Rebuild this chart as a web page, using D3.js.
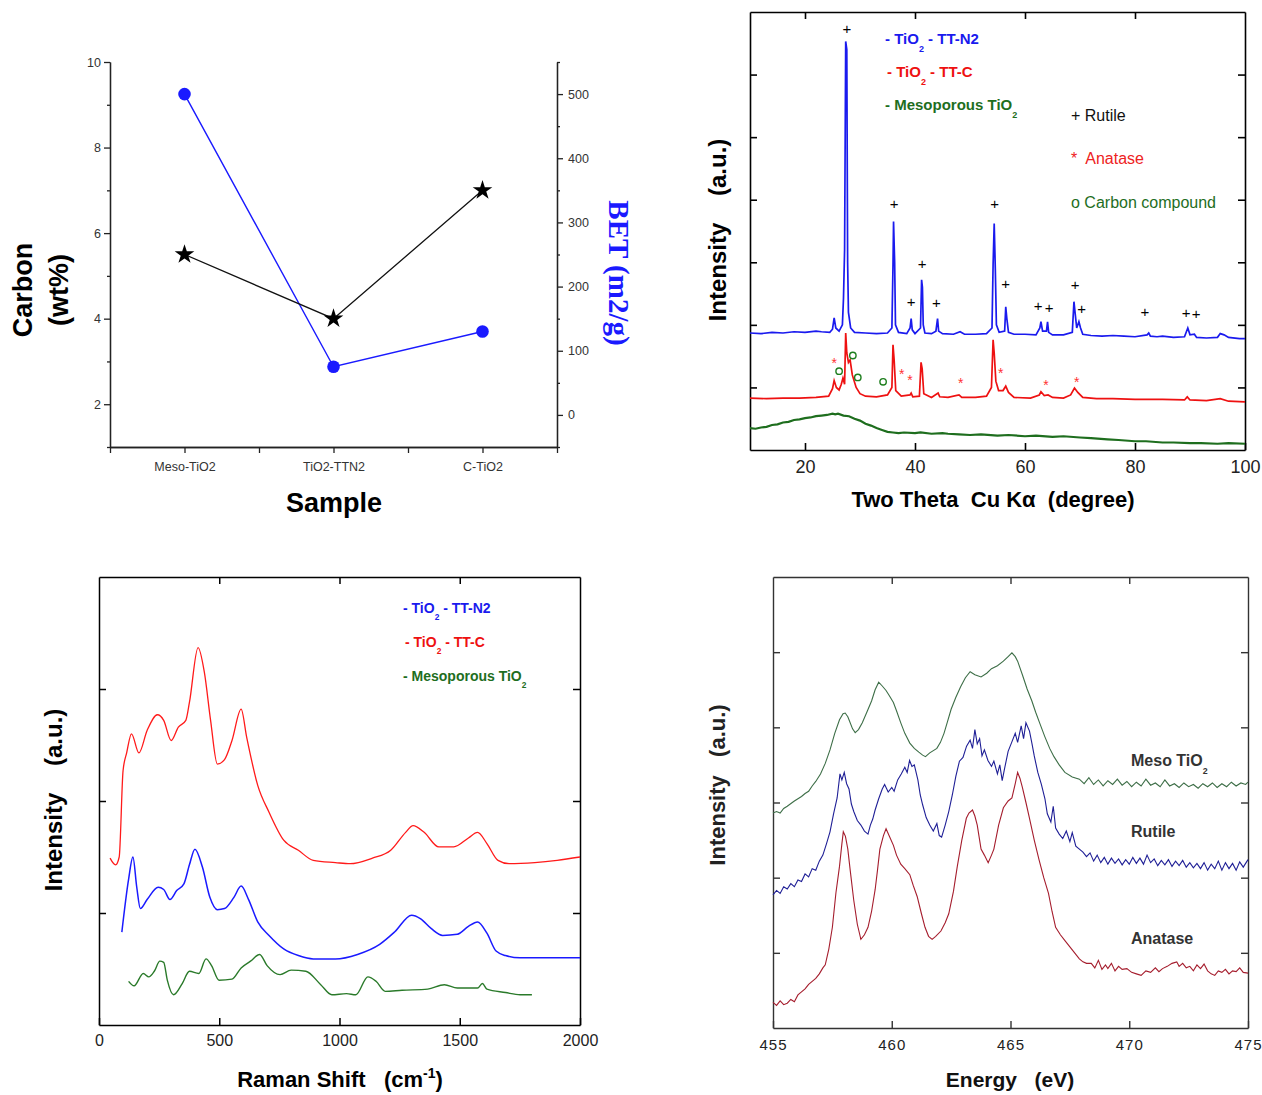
<!DOCTYPE html>
<html><head><meta charset="utf-8">
<script src="https://cdn.jsdelivr.net/npm/d3@7"></script>
<style>
body{margin:0;background:#fff}
svg{display:block}
.pre{white-space:pre}
</style>
</head><body>
<svg id="c" width="1262" height="1095" font-family='"Liberation Sans", Arial, Helvetica, sans-serif'></svg>
<script>
// ---------- Panel 1 data ----------
const samples = ["Meso-TiO2", "TiO2-TTN2", "C-TiO2"];
const carbonWt = [5.5, 4.0, 7.0];
const betArea = [500, 75, 130];
const carbonTicks = [2, 4, 6, 8, 10];
const betTicks = [0, 100, 200, 300, 400, 500];

// ---------- Panel 2 data (XRD) ----------
const xrdTicks = [20, 40, 60, 80, 100];
const xrdN2 = [[10,1.87],[12,1.86],[14,1.88],[16,1.87],[18,1.89],[20,1.88],[22,1.90],[23,1.89],[24.5,1.88],[25.0,1.93],[25.3,2.11],[25.6,1.95],[26.2,1.90],[26.8,2.00],[27.0,2.43],[27.2,3.2],[27.4,6.53],[27.6,6.4],[27.75,3.0],[27.9,2.2],[28.3,1.95],[29,1.88],[31,1.87],[33,1.86],[35,1.87],[35.8,1.95],[36.0,2.96],[36.1,3.65],[36.3,3.0],[36.45,2.0],[37,1.88],[38.5,1.86],[39.1,1.95],[39.3,2.1],[39.5,1.92],[40,1.86],[41.0,1.95],[41.2,2.72],[41.35,2.6],[41.5,2.0],[41.8,1.87],[43,1.86],[43.8,1.9],[44.1,2.1],[44.3,1.9],[45,1.86],[47,1.85],[48.2,1.89],[49,1.85],[51,1.85],[53,1.86],[54.0,1.95],[54.2,2.96],[54.4,3.62],[54.6,2.9],[54.8,2.0],[55.3,1.88],[56.3,1.9],[56.5,2.29],[56.7,2.1],[57.0,1.88],[58,1.85],[60,1.85],[62,1.84],[62.7,1.95],[62.9,2.05],[63.2,1.9],[63.9,1.9],[64.1,2.05],[64.3,1.88],[65,1.84],[67,1.84],[68.6,1.88],[68.9,2.37],[69.1,2.2],[69.4,1.95],[69.8,2.05],[70.1,1.95],[70.5,1.85],[72,1.83],[74,1.82],[76,1.83],[78,1.82],[80,1.81],[82.2,1.84],[82.5,1.87],[82.8,1.82],[84,1.81],[85,1.82],[87,1.80],[89,1.81],[89.6,1.95],[90,1.84],[90.8,1.85],[91.2,1.8],[93,1.79],[95,1.80],[95.5,1.86],[96.2,1.84],[97,1.80],[99,1.78],[100,1.78]];
const xrdC = [[10,0.83],[13,0.82],[16,0.83],[19,0.83],[22,0.84],[24.3,0.86],[25.0,0.98],[25.3,1.11],[25.7,1.0],[26.2,0.96],[26.6,1.05],[26.9,1.15],[27.2,1.05],[27.4,1.87],[27.6,1.55],[27.9,1.40],[28.2,1.44],[28.6,1.2],[29.3,1.0],[30,0.9],[31,0.86],[33,0.85],[35,0.88],[35.8,1.0],[36.0,1.68],[36.2,1.45],[36.5,0.95],[37.5,0.86],[39.1,0.88],[39.3,0.91],[39.6,0.85],[40.8,0.86],[41.1,1.40],[41.3,1.3],[41.6,0.9],[43,0.84],[44.2,0.91],[44.5,0.85],[46,0.84],[48.0,0.88],[48.5,0.84],[51,0.84],[53,0.86],[53.9,1.0],[54.2,1.76],[54.4,1.55],[54.7,1.1],[55.2,0.95],[56.0,0.95],[56.5,1.02],[57,0.92],[58,0.84],[61,0.83],[62.6,0.88],[62.9,0.93],[63.5,0.87],[64.2,0.88],[65,0.84],[67,0.83],[68.3,0.88],[69.0,0.99],[69.6,0.92],[70.5,0.84],[73,0.82],[76,0.82],[80,0.81],[85,0.81],[89,0.8],[89.5,0.85],[90,0.8],[93,0.79],[95.5,0.82],[97,0.78],[100,0.77]];
const xrdMeso = [[10,0.35],[11,0.34],[12,0.36],[13,0.37],[14,0.40],[15,0.41],[16,0.44],[17,0.45],[18,0.48],[19,0.49],[20,0.51],[21,0.52],[22,0.54],[23,0.55],[24,0.56],[25,0.58],[25.5,0.57],[26,0.58],[27,0.55],[28,0.54],[29,0.50],[30,0.47],[31,0.42],[32,0.39],[33,0.35],[34,0.32],[35,0.29],[36,0.28],[37,0.27],[38,0.28],[40,0.27],[41,0.28],[43,0.26],[45,0.27],[46,0.26],[48,0.25],[50,0.24],[52,0.25],[55,0.23],[57,0.24],[60,0.22],[62,0.23],[65,0.21],[67,0.22],[70,0.20],[72,0.19],[75,0.17],[77,0.16],[80,0.14],[82,0.14],[85,0.12],[87,0.12],[90,0.11],[92,0.11],[95,0.10],[97,0.11],[100,0.10]];
const rutileMarks = [[27.6,6.74],[36.2,3.94],[39.3,2.37],[41.3,2.98],[43.9,2.35],[54.5,3.94],[56.5,2.66],[62.4,2.30],[64.4,2.28],[69.1,2.64],[70.3,2.25],[81.8,2.21],[89.3,2.19],[91.1,2.17]];
const anataseMarks = [[25.3,1.43],[37.6,1.25],[39.1,1.16],[48.3,1.11],[55.6,1.27],[63.8,1.08],[69.4,1.13]];
const carbonMarks = [[26.2,1.26],[28.7,1.51],[29.6,1.16],[34.2,1.09]];

// ---------- Panel 3 data (Raman) ----------
const ramanTicks = [0, 500, 1000, 1500, 2000];
const ramanC = [[46,1.49],[69,1.43],[84,1.50],[100,2.27],[115,2.43],[135,2.60],[166,2.43],[200,2.63],[243,2.77],[269,2.72],[300,2.54],[330,2.66],[361,2.72],[376,2.88],[412,3.37],[438,3.15],[464,2.72],[492,2.33],[522,2.37],[553,2.54],[591,2.82],[614,2.57],[660,2.14],[707,1.90],[768,1.65],[829,1.56],[891,1.47],[983,1.45],[1044,1.44],[1137,1.49],[1213,1.56],[1275,1.72],[1306,1.78],[1352,1.72],[1413,1.59],[1475,1.59],[1536,1.67],[1574,1.72],[1613,1.62],[1659,1.47],[1705,1.44],[1812,1.45],[1905,1.47],[2000,1.50]];
const ramanN2 = [[95,0.83],[123,1.30],[141,1.50],[157,1.23],[172,1.04],[200,1.12],[246,1.23],[269,1.21],[295,1.12],[323,1.20],[353,1.26],[376,1.43],[399,1.57],[430,1.41],[461,1.14],[492,1.03],[522,1.04],[561,1.14],[591,1.24],[622,1.12],[660,0.92],[707,0.80],[768,0.68],[829,0.62],[891,0.59],[983,0.59],[1075,0.63],[1167,0.72],[1229,0.83],[1300,0.98],[1336,0.95],[1382,0.86],[1429,0.80],[1490,0.81],[1536,0.88],[1574,0.92],[1613,0.82],[1651,0.66],[1690,0.62],[1751,0.60],[2000,0.60]];
const ramanMeso = [[123,0.39],[146,0.35],[184,0.46],[207,0.43],[230,0.48],[253,0.57],[269,0.56],[284,0.40],[310,0.27],[346,0.37],[376,0.48],[415,0.46],[445,0.59],[468,0.53],[499,0.40],[553,0.41],[591,0.51],[630,0.57],[668,0.63],[699,0.53],[753,0.45],[799,0.49],[860,0.48],[922,0.36],[968,0.27],[1029,0.28],[1068,0.27],[1118,0.43],[1152,0.39],[1190,0.30],[1260,0.31],[1367,0.32],[1436,0.36],[1490,0.33],[1574,0.33],[1594,0.37],[1613,0.32],[1690,0.29],[1751,0.27],[1800,0.27]];

// ---------- Panel 4 data (XAS) ----------
const xasTicks = [455, 460, 465, 470, 475];
const xasMeso = [[455,2.86],[455.15,2.88],[455.3,2.86],[455.45,2.92],[455.6,2.95],[455.77,2.99],[455.9,3.02],[456.05,3.05],[456.2,3.08],[456.35,3.12],[456.5,3.15],[456.65,3.22],[456.8,3.28],[457.0,3.38],[457.2,3.52],[457.4,3.70],[457.6,3.92],[457.8,4.10],[457.95,4.18],[458.04,4.19],[458.15,4.14],[458.2,4.10],[458.35,3.98],[458.46,3.93],[458.6,3.97],[458.76,4.06],[458.95,4.20],[459.15,4.35],[459.3,4.50],[459.45,4.60],[459.6,4.55],[459.76,4.49],[459.9,4.42],[460.07,4.33],[460.2,4.22],[460.38,4.06],[460.55,3.92],[460.76,3.79],[460.95,3.72],[461.14,3.67],[461.3,3.63],[461.42,3.61],[461.6,3.66],[461.9,3.72],[462.05,3.80],[462.2,3.92],[462.35,4.08],[462.5,4.24],[462.7,4.40],[462.9,4.54],[463.1,4.66],[463.3,4.74],[463.5,4.70],[463.76,4.67],[464.0,4.72],[464.2,4.78],[464.45,4.82],[464.7,4.88],[464.9,4.94],[465.06,4.99],[465.2,4.94],[465.3,4.88],[465.5,4.70],[465.7,4.51],[465.9,4.35],[466.06,4.20],[466.25,4.04],[466.44,3.88],[466.65,3.72],[466.83,3.61],[467.05,3.50],[467.29,3.40],[467.6,3.34],[467.9,3.31],[468.1,3.25],[468.3,3.33],[468.5,3.24],[468.7,3.30],[468.9,3.22],[469.1,3.29],[469.3,3.24],[469.5,3.31],[469.7,3.23],[469.9,3.28],[470.1,3.21],[470.3,3.27],[470.5,3.22],[470.7,3.31],[470.9,3.23],[471.1,3.26],[471.3,3.21],[471.5,3.30],[471.7,3.22],[471.9,3.25],[472.1,3.20],[472.3,3.26],[472.5,3.21],[472.7,3.24],[472.9,3.19],[473.1,3.25],[473.3,3.21],[473.5,3.26],[473.7,3.20],[473.9,3.25],[474.1,3.21],[474.3,3.27],[474.5,3.22],[474.7,3.26],[474.9,3.24],[475,3.27]];
const xasRutile = [[455,1.77],[455.15,1.83],[455.3,1.79],[455.45,1.88],[455.6,1.85],[455.75,1.92],[455.9,1.88],[456.05,1.97],[456.2,1.95],[456.35,2.05],[456.5,2.01],[456.65,2.12],[456.8,2.10],[456.95,2.22],[457.1,2.30],[457.25,2.45],[457.4,2.61],[457.55,2.85],[457.7,3.06],[457.82,3.38],[457.9,3.30],[458.0,3.40],[458.1,3.25],[458.2,3.18],[458.3,2.98],[458.4,2.88],[458.55,2.76],[458.7,2.70],[458.85,2.62],[459.0,2.58],[459.1,2.70],[459.2,2.78],[459.3,2.90],[459.45,3.05],[459.6,3.18],[459.7,3.24],[459.85,3.14],[460.0,3.20],[460.1,3.15],[460.25,3.30],[460.4,3.38],[460.55,3.47],[460.65,3.40],[460.75,3.56],[460.85,3.48],[460.95,3.50],[461.1,3.30],[461.2,3.10],[461.3,2.97],[461.45,2.80],[461.6,2.70],[461.75,2.62],[461.9,2.72],[462.0,2.56],[462.1,2.54],[462.25,2.70],[462.4,2.88],[462.55,3.10],[462.7,3.35],[462.85,3.55],[463.0,3.60],[463.15,3.75],[463.3,3.83],[463.4,3.72],[463.5,3.97],[463.6,3.78],[463.7,3.85],[463.8,3.62],[463.9,3.70],[464.05,3.56],[464.2,3.48],[464.3,3.55],[464.45,3.38],[464.55,3.50],[464.65,3.29],[464.75,3.45],[464.9,3.68],[465.05,3.80],[465.2,3.92],[465.3,3.80],[465.45,4.02],[465.55,3.85],[465.65,4.06],[465.8,3.95],[465.9,3.79],[466.0,3.62],[466.15,3.40],[466.3,3.24],[466.45,3.05],[466.55,2.85],[466.7,2.74],[466.8,2.95],[466.9,2.66],[467.05,2.58],[467.2,2.52],[467.35,2.62],[467.5,2.48],[467.6,2.60],[467.75,2.42],[467.9,2.38],[468.05,2.34],[468.2,2.28],[468.35,2.33],[468.5,2.22],[468.65,2.30],[468.8,2.20],[468.95,2.27],[469.1,2.18],[469.25,2.26],[469.4,2.19],[469.55,2.25],[469.7,2.17],[469.85,2.24],[470.0,2.18],[470.15,2.27],[470.3,2.19],[470.45,2.26],[470.6,2.18],[470.75,2.30],[470.9,2.20],[471.05,2.25],[471.2,2.16],[471.35,2.23],[471.5,2.17],[471.65,2.24],[471.8,2.15],[471.95,2.22],[472.1,2.16],[472.25,2.23],[472.4,2.14],[472.55,2.20],[472.7,2.13],[472.85,2.19],[473.0,2.12],[473.15,2.20],[473.3,2.10],[473.45,2.18],[473.6,2.12],[473.75,2.22],[473.9,2.10],[474.05,2.20],[474.2,2.12],[474.35,2.19],[474.5,2.10],[474.65,2.21],[474.8,2.14],[475,2.24]];
const xasAnatase = [[455,0.34],[455.15,0.30],[455.3,0.36],[455.45,0.31],[455.6,0.33],[455.75,0.38],[455.9,0.35],[456.05,0.44],[456.2,0.48],[456.35,0.52],[456.5,0.58],[456.65,0.62],[456.8,0.66],[456.95,0.72],[457.1,0.80],[457.2,0.84],[457.35,1.05],[457.5,1.34],[457.65,1.80],[457.8,2.15],[457.9,2.45],[457.96,2.61],[458.05,2.55],[458.15,2.38],[458.25,2.10],[458.4,1.70],[458.55,1.38],[458.7,1.18],[458.85,1.24],[459.0,1.34],[459.15,1.55],[459.3,1.84],[459.4,2.10],[459.5,2.38],[459.65,2.56],[459.76,2.65],[459.9,2.55],[460.07,2.43],[460.2,2.30],[460.38,2.18],[460.55,2.12],[460.76,2.04],[460.9,1.90],[461.07,1.75],[461.25,1.52],[461.4,1.34],[461.55,1.22],[461.7,1.18],[461.85,1.22],[462.07,1.29],[462.25,1.40],[462.4,1.52],[462.6,1.82],[462.76,2.15],[462.95,2.50],[463.14,2.79],[463.25,2.86],[463.4,2.90],[463.5,2.82],[463.6,2.70],[463.7,2.50],[463.76,2.38],[463.9,2.30],[464.06,2.20],[464.2,2.30],[464.3,2.38],[464.5,2.70],[464.7,2.93],[464.9,3.02],[465.06,3.06],[465.2,3.25],[465.3,3.40],[465.4,3.32],[465.5,3.20],[465.65,3.00],[465.8,2.79],[466.0,2.50],[466.2,2.24],[466.4,2.00],[466.6,1.79],[466.75,1.55],[466.9,1.34],[467.1,1.24],[467.3,1.16],[467.5,1.08],[467.75,0.98],[467.9,0.92],[468.05,0.88],[468.2,0.86],[468.4,0.86],[468.55,0.80],[468.7,0.90],[468.85,0.78],[469.0,0.84],[469.1,0.79],[469.25,0.86],[469.4,0.76],[469.55,0.82],[469.7,0.78],[469.9,0.79],[470.1,0.74],[470.3,0.72],[470.5,0.70],[470.7,0.76],[470.9,0.74],[471.1,0.80],[471.25,0.75],[471.4,0.79],[471.6,0.82],[471.8,0.86],[472.0,0.88],[472.1,0.82],[472.25,0.86],[472.4,0.80],[472.55,0.82],[472.7,0.76],[472.85,0.84],[473.0,0.79],[473.15,0.85],[473.3,0.76],[473.45,0.72],[473.6,0.70],[473.75,0.76],[473.9,0.74],[474.05,0.78],[474.2,0.72],[474.35,0.76],[474.5,0.75],[474.65,0.80],[474.8,0.74],[475,0.73]];

// ================= drawing =================
const SANS = '"Liberation Sans", Arial, Helvetica, sans-serif';
const SERIF = '"Liberation Serif", "Times New Roman", Times, serif';
const NARROW = '"Liberation Sans Narrow", "Arial Narrow", "Liberation Sans", Arial, sans-serif';
const svg = d3.select("#c");
svg.append("rect").attr("width", 1262).attr("height", 1095).attr("fill", "#fff");

function styleAxis(g, color, sw, fs, fill, weight) {
  g.attr("font-family", SANS);
  g.selectAll(".domain, .tick line").attr("stroke", color).attr("stroke-width", sw);
  g.selectAll("text").attr("font-size", fs).attr("fill", fill || "#111")
    .attr("font-weight", weight || "normal");
  g.selectAll(".tick text").filter(function () { return this.textContent === ""; }).remove();
}
function mkLine(x, y, curve) {
  return d3.line().x(d => x(d[0])).y(d => y(d[1])).curve(curve || d3.curveLinear);
}
function rotLabel(parent, x, y, txt, opts) {
  return parent.append("text").attr("class", "pre")
    .attr("transform", `translate(${x},${y}) rotate(${opts.rot || -90})`)
    .attr("text-anchor", "middle").attr("font-size", opts.fs).attr("font-weight", "bold")
    .attr("font-family", opts.family || SANS)
    .attr("fill", opts.fill || "#000").text(txt);
}
function framePanel(x, y, xt, yt, opt) {
  const g = svg.append("g");
  const [yb, yt0] = y.range();
  const [xl, xr] = x.range();
  const tl = opt.tl || 6;
  const gb = g.append("g").attr("transform", `translate(0,${yb})`)
    .call(d3.axisBottom(x).tickValues(xt).tickSize(-tl).tickSizeOuter(0).tickPadding(opt.pad).tickFormat(d3.format("d")));
  styleAxis(gb, opt.color, opt.sw, opt.fs, opt.tfill, opt.tweight);
  gb.selectAll("text").attr("dy", "0.71em");
  const inner = xt.filter(v => v !== x.domain()[0] && v !== x.domain()[1]);
  const gt = g.append("g").attr("transform", `translate(0,${yt0})`)
    .call(d3.axisTop(x).tickValues(inner).tickSize(-tl).tickSizeOuter(0).tickFormat(""));
  styleAxis(gt, opt.color, opt.sw, opt.fs);
  const gl = g.append("g").attr("transform", `translate(${xl},0)`)
    .call(d3.axisLeft(y).tickValues(yt).tickSize(-tl).tickSizeOuter(0).tickFormat(""));
  styleAxis(gl, opt.color, opt.sw, opt.fs);
  const gr = g.append("g").attr("transform", `translate(${xr},0)`)
    .call(d3.axisRight(y).tickValues(yt).tickSize(-tl).tickSizeOuter(0).tickFormat(""));
  styleAxis(gr, opt.color, opt.sw, opt.fs);
  return g;
}
// text with a subscript part; the part after a subscript restores the baseline
function subText(parent, x, y, parts, fs, fill, family, subScale) {
  const t = parent.append("text").attr("x", x).attr("y", y).attr("font-size", fs)
    .attr("font-weight", "bold").attr("fill", fill).attr("class", "pre")
    .attr("font-family", family || SANS);
  const off = fs * 0.5;
  let lowered = false;
  parts.forEach(p => {
    if (p.sub) {
      t.append("tspan").attr("dy", off).attr("font-size", fs * (subScale || 0.6)).text(p.sub);
      lowered = true;
    } else {
      const s = t.append("tspan").text(p.t);
      if (lowered) { s.attr("dy", -off); lowered = false; }
    }
  });
  return t;
}

// ---------- Panel 1 ----------
{
  const x = d3.scaleLinear().domain([0.5, 3.5]).range([110, 557]);
  const yL = d3.scaleLinear().domain([1, 10]).range([447, 62]);
  const yR = d3.scaleLinear().domain([-50, 550]).range([447, 62]);
  const g = svg.append("g");
  const c = "#222";
  const gl = g.append("g").attr("transform", "translate(110,0)")
    .call(d3.axisLeft(yL).tickValues(carbonTicks).tickSize(6).tickSizeOuter(0).tickPadding(3));
  styleAxis(gl, c, 1.3, 12.5, "#333");
  const glm = g.append("g").attr("transform", "translate(110,0)")
    .call(d3.axisLeft(yL).tickValues([1, 3, 5, 7, 9]).tickSize(3).tickSizeOuter(0).tickFormat(""));
  styleAxis(glm, c, 1.3, 12);
  const gr = g.append("g").attr("transform", "translate(557,0)")
    .call(d3.axisRight(yR).tickValues(betTicks).tickSize(6).tickSizeOuter(0).tickPadding(5));
  styleAxis(gr, c, 1.3, 12.5, "#333");
  const grm = g.append("g").attr("transform", "translate(557,0)")
    .call(d3.axisRight(yR).tickValues([-50, 50, 150, 250, 350, 450, 550]).tickSize(3).tickSizeOuter(0).tickFormat(""));
  styleAxis(grm, c, 1.3, 12);
  const gb = g.append("g").attr("transform", "translate(0,447)")
    .call(d3.axisBottom(x).tickValues([1, 2, 3]).tickSize(6).tickSizeOuter(0).tickPadding(9).tickFormat(i => samples[i - 1]));
  styleAxis(gb, c, 1.3, 12.5, "#333");
  const gbm = g.append("g").attr("transform", "translate(0,447)")
    .call(d3.axisBottom(x).tickValues([0.5, 1.5, 2.5, 3.5]).tickSize(6).tickSizeOuter(0).tickFormat(""));
  styleAxis(gbm, c, 1.3, 12);

  const idx = [1, 2, 3];
  g.append("path").datum(idx.map((v, i) => [v, betArea[i]]))
    .attr("d", mkLine(x, yR)).attr("fill", "none").attr("stroke", "#1a1aff").attr("stroke-width", 1.4);
  g.append("path").datum(idx.map((v, i) => [v, carbonWt[i]]))
    .attr("d", mkLine(x, yL)).attr("fill", "none").attr("stroke", "#111").attr("stroke-width", 1.3);
  g.selectAll(".bet").data(betArea).join("circle")
    .attr("cx", (d, i) => x(i + 1)).attr("cy", d => yR(d)).attr("r", 6.3).attr("fill", "#1a1aff");
  g.selectAll(".star").data(carbonWt).join("path")
    .attr("transform", (d, i) => `translate(${x(i + 1)},${yL(d)})`)
    .attr("d", d3.symbol(d3.symbolStar, 120)).attr("fill", "#000");

  rotLabel(g, 32, 290, "Carbon", { fs: 27 });
  rotLabel(g, 68, 290, "(wt%)", { fs: 27 });
  rotLabel(g, 609, 273, "BET (m2/g)", { fs: 29, rot: 90, fill: "#1a1aff", family: SERIF });
  g.append("text").attr("x", 334).attr("y", 512).attr("text-anchor", "middle").attr("font-family", SANS)
    .attr("font-size", 27).attr("font-weight", "bold").attr("fill", "#000").text("Sample");
}

// ---------- Panel 2 (XRD) ----------
{
  const x = d3.scaleLinear().domain([10, 100]).range([750, 1245]);
  const y = d3.scaleLinear().domain([0, 7]).range([450, 12]);
  const g = framePanel(x, y, xrdTicks, [1, 2, 3, 4, 5, 6], { color: "#000", sw: 1.6, fs: 18, pad: 10, tl: 7, tfill: "#222" });
  const lg = mkLine(x, y);
  g.append("path").datum(xrdMeso).attr("d", lg).attr("fill", "none").attr("stroke", "#1e6e1e").attr("stroke-width", 2.2);
  g.append("path").datum(xrdC).attr("d", lg).attr("fill", "none").attr("stroke", "#ee1111").attr("stroke-width", 1.7);
  g.append("path").datum(xrdN2).attr("d", lg).attr("fill", "none").attr("stroke", "#1a1aee").attr("stroke-width", 1.7);
  g.selectAll(".rm").data(rutileMarks).join("text")
    .attr("x", d => x(d[0])).attr("y", d => y(d[1])).attr("dy", "0.35em").attr("text-anchor", "middle")
    .attr("font-family", SANS).attr("font-size", 15).attr("fill", "#000").text("+");
  g.selectAll(".am").data(anataseMarks).join("text")
    .attr("x", d => x(d[0])).attr("y", d => y(d[1])).attr("dy", "0.55em").attr("text-anchor", "middle")
    .attr("font-family", SANS).attr("font-size", 14).attr("fill", "#ff3333").text("*");
  g.selectAll(".cm").data(carbonMarks).join("circle")
    .attr("cx", d => x(d[0])).attr("cy", d => y(d[1])).attr("r", 3.2)
    .attr("fill", "none").attr("stroke", "#1e7e1e").attr("stroke-width", 1.4);

  subText(g, 885, 44, [{ t: "- TiO" }, { sub: "2" }, { t: " - TT-N2" }], 15, "#1a1aee", NARROW);
  subText(g, 887, 77, [{ t: "- TiO" }, { sub: "2" }, { t: " - TT-C" }], 15, "#ee1111", NARROW);
  subText(g, 885, 110, [{ t: "- Mesoporous TiO" }, { sub: "2" }], 15, "#1e6e1e", NARROW);
  const leg = [["+ Rutile", "#111", 121], ["*  Anatase", "#ee2222", 164], ["o Carbon compound", "#1e6e1e", 208]];
  leg.forEach(l => g.append("text").attr("x", 1071).attr("y", l[2]).attr("font-family", SANS)
    .attr("font-size", 16).attr("fill", l[1]).attr("class", "pre").text(l[0]));

  g.append("text").attr("x", 993).attr("y", 507).attr("text-anchor", "middle").attr("class", "pre").attr("font-family", SANS)
    .attr("font-size", 22).attr("font-weight", "bold").attr("fill", "#000").text("Two Theta  Cu Kα  (degree)");
  rotLabel(g, 726, 230, "Intensity    (a.u.)", { fs: 24 });
}

// ---------- Panel 3 (Raman) ----------
{
  const x = d3.scaleLinear().domain([0, 2000]).range([99, 580]);
  const y = d3.scaleLinear().domain([0, 4]).range([1025, 577]);
  const g = framePanel(x, y, ramanTicks, [1, 2, 3], { color: "#000", sw: 1.5, fs: 16, pad: 10, tl: 7, tfill: "#222" });
  const lg = mkLine(x, y, d3.curveMonotoneX);
  g.append("path").datum(ramanMeso).attr("d", lg).attr("fill", "none").attr("stroke", "#2a7a2a").attr("stroke-width", 1.4);
  g.append("path").datum(ramanN2).attr("d", lg).attr("fill", "none").attr("stroke", "#1a1aff").attr("stroke-width", 1.5);
  g.append("path").datum(ramanC).attr("d", lg).attr("fill", "none").attr("stroke", "#ff1a1a").attr("stroke-width", 1.3);

  subText(g, 403, 613, [{ t: "- TiO" }, { sub: "2" }, { t: " - TT-N2" }], 14, "#1a1aee", NARROW);
  subText(g, 405, 647, [{ t: "- TiO" }, { sub: "2" }, { t: " - TT-C" }], 14, "#ee1111", NARROW);
  subText(g, 403, 681, [{ t: "- Mesoporous TiO" }, { sub: "2" }], 14, "#1e6e1e", NARROW);

  const t = g.append("text").attr("x", 340).attr("y", 1087).attr("text-anchor", "middle").attr("class", "pre")
    .attr("font-family", SANS).attr("font-size", 22).attr("font-weight", "bold").attr("fill", "#000");
  t.append("tspan").text("Raman Shift   (cm");
  t.append("tspan").attr("dy", -9).attr("font-size", 14).text("-1");
  t.append("tspan").attr("dy", 9).text(")");
  rotLabel(g, 62, 800, "Intensity    (a.u.)", { fs: 24 });
}

// ---------- Panel 4 (XAS) ----------
{
  const x = d3.scaleLinear().domain([455, 475]).range([773, 1248]);
  const y = d3.scaleLinear().domain([0, 6]).range([1028, 577]);
  const g = framePanel(x, y, xasTicks, [1, 2, 3, 4, 5], { color: "#333", sw: 1.4, fs: 15, pad: 11, tl: 7, tfill: "#222", tweight: "normal" });
  g.selectAll("text").attr("letter-spacing", 1);
  const lg = mkLine(x, y);
  g.append("path").datum(xasMeso).attr("d", lg).attr("fill", "none").attr("stroke", "#3d6e47").attr("stroke-width", 1.1);
  g.append("path").datum(xasRutile).attr("d", lg).attr("fill", "none").attr("stroke", "#1f1f96").attr("stroke-width", 1.1);
  g.append("path").datum(xasAnatase).attr("d", lg).attr("fill", "none").attr("stroke", "#a51d2d").attr("stroke-width", 1.1);

  subText(g, 1131, 766, [{ t: "Meso TiO" }, { sub: "2" }], 16, "#333", SANS, 0.55);
  g.append("text").attr("x", 1131).attr("y", 837).attr("font-family", SANS).attr("font-size", 16).attr("font-weight", "bold").attr("fill", "#333").text("Rutile");
  g.append("text").attr("x", 1131).attr("y", 944).attr("font-family", SANS).attr("font-size", 16).attr("font-weight", "bold").attr("fill", "#333").text("Anatase");

  g.append("text").attr("x", 1010).attr("y", 1087).attr("text-anchor", "middle").attr("class", "pre")
    .attr("font-family", SANS).attr("font-size", 21).attr("font-weight", "bold").attr("fill", "#111").text("Energy   (eV)");
  rotLabel(g, 725, 785, "Intensity   (a.u.)", { fs: 22, fill: "#222" });
}
</script>
</body></html>
